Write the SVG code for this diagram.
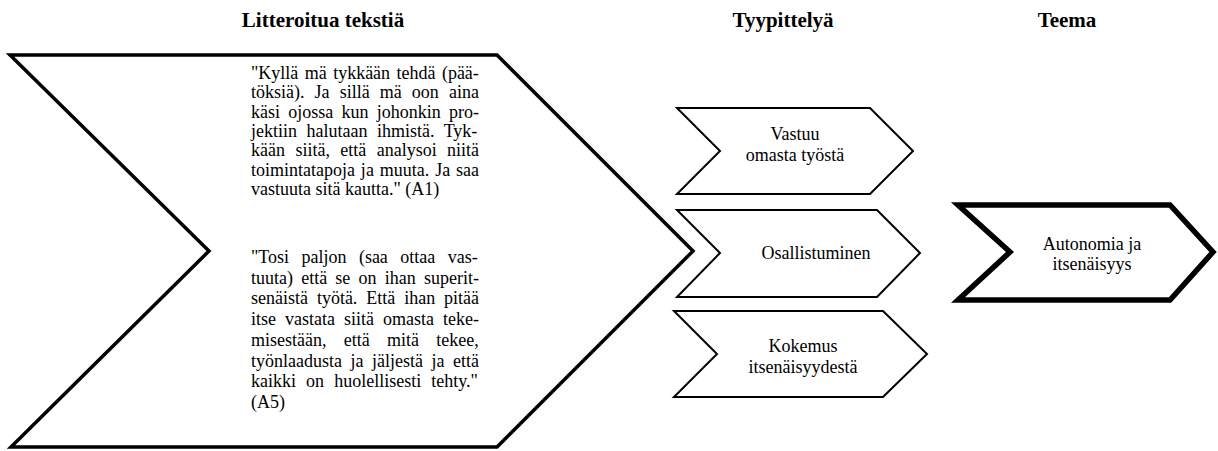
<svg xmlns="http://www.w3.org/2000/svg" width="1218" height="451" viewBox="0 0 1218 451">
<style>
.bg{fill:#fff}
.big{fill:#fff;stroke:#000;stroke-width:3.5;stroke-linejoin:miter}
.mid{fill:#fff;stroke:#000;stroke-width:2;stroke-linejoin:miter}
.theme{fill:#fff;stroke:#000;stroke-width:5.5;stroke-linejoin:miter}
.title{font-family:"Liberation Serif","Times New Roman",serif;font-weight:bold;font-size:21px;fill:#000;text-anchor:middle}
.body{font-family:"Liberation Serif","Times New Roman",serif;font-size:18px;fill:#000}
.lbl{font-family:"Liberation Serif","Times New Roman",serif;font-size:18px;fill:#000;text-anchor:middle}
</style>
<rect class="bg" x="0" y="0" width="1218" height="451"/>
<g id="titles">
<text class="title" x="323" y="27">Litteroitua tekstiä</text>
<text class="title" x="783" y="27">Tyypittelyä</text>
<text class="title" x="1067" y="27">Teema</text>
</g>
<g id="connectors"></g>
<g id="node-litteroitu">
<polygon class="big" points="10,55 497,55 693,251 497,447 11,447 209,251"/>
<text class="body" x="251" y="79" style="word-spacing:1.9px">"Kyllä mä tykkään tehdä (pää-</text>
<text class="body" x="251" y="98.3" style="word-spacing:5.6px">töksiä). Ja sillä mä oon aina</text>
<text class="body" x="251" y="117.6" style="word-spacing:3.75px">käsi ojossa kun johonkin pro-</text>
<text class="body" x="251" y="136.9" style="word-spacing:5px">jektiin halutaan ihmistä. Tyk-</text>
<text class="body" x="251" y="156.2" style="word-spacing:5.9px">kään siitä, että analysoi niitä</text>
<text class="body" x="251" y="175.5" style="word-spacing:1.4px">toimintatapoja ja muuta. Ja saa</text>
<text class="body" x="251" y="194.8">vastuuta sitä kautta." (A1)</text>
<text class="body" x="251" y="263" style="word-spacing:7.9px">"Tosi paljon (saa ottaa vas-</text>
<text class="body" x="251" y="283.7" style="word-spacing:3.7px">tuuta) että se on ihan superit-</text>
<text class="body" x="251" y="304.4" style="word-spacing:4.4px">senäistä työtä. Että ihan pitää</text>
<text class="body" x="251" y="325.1" style="word-spacing:4.5px">itse vastata siitä omasta teke-</text>
<text class="body" x="251" y="345.8" style="word-spacing:12.8px">misestään, että mitä tekee,</text>
<text class="body" x="251" y="366.5" style="word-spacing:4px">työnlaadusta ja jäljestä ja että</text>
<text class="body" x="251" y="387.2" style="word-spacing:5.6px">kaikki on huolellisesti tehty."</text>
<text class="body" x="251" y="407.9">(A5)</text>
</g>
<g id="node-vastuu">
<polygon class="mid" points="677,108 870,108 913,151 870,194 677,194 720,151"/>
<text class="lbl" x="795" y="140">Vastuu</text>
<text class="lbl" x="795" y="160.5">omasta työstä</text>
</g>
<g id="node-osallistuminen">
<polygon class="mid" points="677,210 877,210 920,253 877,297 677,297 720,253"/>
<text class="lbl" x="816" y="259">Osallistuminen</text>
</g>
<g id="node-kokemus">
<polygon class="mid" points="674,311 883,311 927,354 883,397 674,397 717,354"/>
<text class="lbl" x="803" y="352">Kokemus</text>
<text class="lbl" x="803" y="372.5">itsenäisyydestä</text>
</g>
<g id="node-teema">
<polygon class="theme" points="958,205 1170,205 1213,252 1170,300 958,300 1010,252"/>
<text class="lbl" x="1092" y="249.5">Autonomia ja</text>
<text class="lbl" x="1092" y="270">itsenäisyys</text>
</g>
</svg>
